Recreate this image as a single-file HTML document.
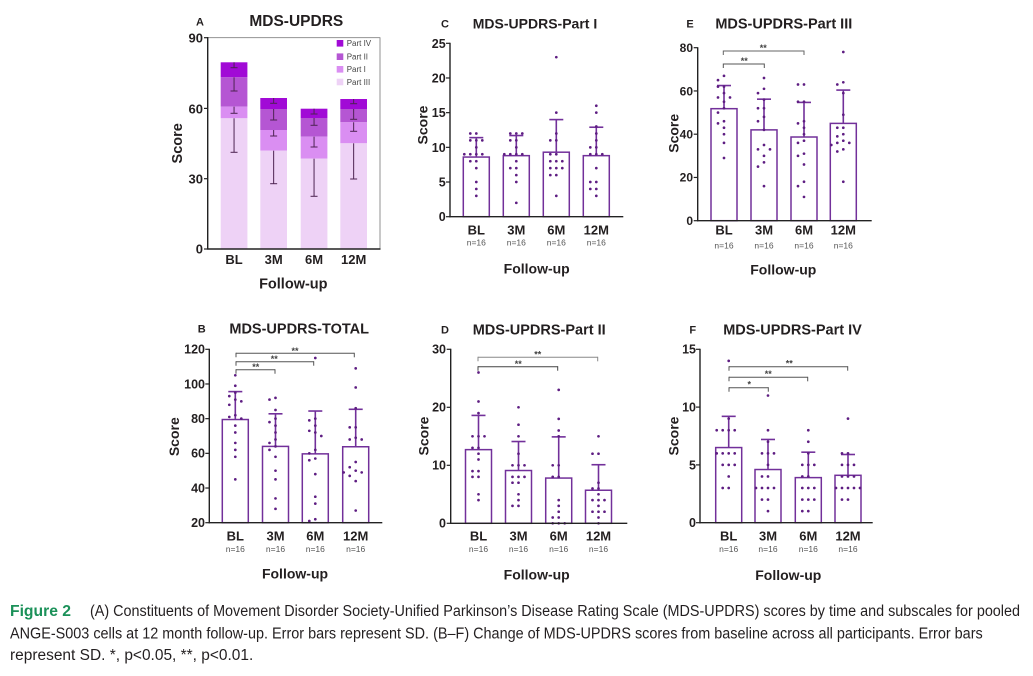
<!DOCTYPE html>
<html><head><meta charset="utf-8">
<style>
html,body{margin:0;padding:0;background:#fff;}
svg{display:block;}
.t{font-family:"Liberation Sans",sans-serif;font-weight:bold;fill:#231f20;}
.n{font-family:"Liberation Sans",sans-serif;font-size:8.5px;fill:#555;}
.cap{font-family:"Liberation Sans Narrow","Liberation Sans",sans-serif;font-size:15.5px;fill:#231f20;}
</style></head>
<body>
<svg id="s" width="1033" height="676" viewBox="0 0 1033 676" xmlns="http://www.w3.org/2000/svg">
<rect width="1033" height="676" fill="#fff"/>
<g id="shapes"></g>

<!-- Panel A text -->
<text class="t" x="200" y="25.7" font-size="11" text-anchor="middle">A</text>
<text class="t" x="296.3" y="26" font-size="15.5" text-anchor="middle">MDS-UPDRS</text>
<text class="t" x="203" y="42.5" font-size="13" text-anchor="end">90</text>
<text class="t" x="203" y="113.3" font-size="13" text-anchor="end">60</text>
<text class="t" x="203" y="183.5" font-size="13" text-anchor="end">30</text>
<text class="t" x="203" y="253.7" font-size="13" text-anchor="end">0</text>
<text class="t" font-size="14.5" text-anchor="middle" transform="translate(182,143.3) rotate(-90)">Score</text>
<text class="t" x="234" y="264" font-size="13" text-anchor="middle">BL</text>
<text class="t" x="273.7" y="264" font-size="13" text-anchor="middle">3M</text>
<text class="t" x="314" y="264" font-size="13" text-anchor="middle">6M</text>
<text class="t" x="353.7" y="264" font-size="13" text-anchor="middle">12M</text>
<text class="t" x="293.3" y="288.5" font-size="14.5" text-anchor="middle">Follow-up</text>
<g font-family="Liberation Sans, sans-serif" font-size="8" fill="#444">
<text x="346.7" y="46.2">Part IV</text>
<text x="346.7" y="59.5">Part II</text>
<text x="346.7" y="72.2">Part I</text>
<text x="346.7" y="84.9">Part III</text>
</g>

<!-- Panel C text -->
<text class="t" x="445" y="27.5" font-size="11" text-anchor="middle">C</text>
<text class="t" x="535" y="28.5" font-size="14" text-anchor="middle">MDS-UPDRS-Part I</text>
<text class="t" x="445.7" y="47.8" font-size="12.5" text-anchor="end">25</text>
<text class="t" x="445.7" y="82.5" font-size="12.5" text-anchor="end">20</text>
<text class="t" x="445.7" y="117.2" font-size="12.5" text-anchor="end">15</text>
<text class="t" x="445.7" y="151.8" font-size="12.5" text-anchor="end">10</text>
<text class="t" x="445.7" y="186.5" font-size="12.5" text-anchor="end">5</text>
<text class="t" x="445.7" y="221.2" font-size="12.5" text-anchor="end">0</text>
<text class="t" font-size="14" text-anchor="middle" transform="translate(427.7,125) rotate(-90)">Score</text>
<text class="t" x="476.3" y="234.7" font-size="13" text-anchor="middle">BL</text>
<text class="t" x="516.3" y="234.7" font-size="13" text-anchor="middle">3M</text>
<text class="t" x="556.3" y="234.7" font-size="13" text-anchor="middle">6M</text>
<text class="t" x="596.3" y="234.7" font-size="13" text-anchor="middle">12M</text>
<text class="n" x="476.3" y="245.7" text-anchor="middle">n=16</text>
<text class="n" x="516.3" y="245.7" text-anchor="middle">n=16</text>
<text class="n" x="556.3" y="245.7" text-anchor="middle">n=16</text>
<text class="n" x="596.3" y="245.7" text-anchor="middle">n=16</text>
<text class="t" x="536.7" y="273.3" font-size="14" text-anchor="middle">Follow-up</text>

<!-- Panel E text -->
<text class="t" x="690" y="27.5" font-size="11" text-anchor="middle">E</text>
<text class="t" x="783.8" y="28.5" font-size="14.5" text-anchor="middle">MDS-UPDRS-Part III</text>
<text class="t" x="693" y="52" font-size="12" text-anchor="end">80</text>
<text class="t" x="693" y="95.3" font-size="12" text-anchor="end">60</text>
<text class="t" x="693" y="138.5" font-size="12" text-anchor="end">40</text>
<text class="t" x="693" y="181.7" font-size="12" text-anchor="end">20</text>
<text class="t" x="693" y="225" font-size="12" text-anchor="end">0</text>
<text class="t" font-size="14" text-anchor="middle" transform="translate(678.3,133.3) rotate(-90)">Score</text>
<text class="t" x="724" y="234.7" font-size="13" text-anchor="middle">BL</text>
<text class="t" x="764" y="234.7" font-size="13" text-anchor="middle">3M</text>
<text class="t" x="804" y="234.7" font-size="13" text-anchor="middle">6M</text>
<text class="t" x="843.3" y="234.7" font-size="13" text-anchor="middle">12M</text>
<text class="n" x="724" y="248.7" text-anchor="middle">n=16</text>
<text class="n" x="764" y="248.7" text-anchor="middle">n=16</text>
<text class="n" x="804" y="248.7" text-anchor="middle">n=16</text>
<text class="n" x="843.3" y="248.7" text-anchor="middle">n=16</text>
<text class="t" x="783.3" y="274.3" font-size="14" text-anchor="middle">Follow-up</text>
<g font-family="Liberation Sans, sans-serif" font-size="9" font-weight="bold" fill="#444" text-anchor="middle">
<text x="763.3" y="51">**</text>
<text x="744.3" y="64">**</text>
</g>

<!-- Panel B text -->
<text class="t" x="201.7" y="332.5" font-size="11" text-anchor="middle">B</text>
<text class="t" x="299.2" y="333.5" font-size="14.5" text-anchor="middle">MDS-UPDRS-TOTAL</text>
<text class="t" x="205" y="353.7" font-size="12.5" text-anchor="end">120</text>
<text class="t" x="205" y="388.4" font-size="12.5" text-anchor="end">100</text>
<text class="t" x="205" y="423.1" font-size="12.5" text-anchor="end">80</text>
<text class="t" x="205" y="457.7" font-size="12.5" text-anchor="end">60</text>
<text class="t" x="205" y="492.4" font-size="12.5" text-anchor="end">40</text>
<text class="t" x="205" y="527.1" font-size="12.5" text-anchor="end">20</text>
<text class="t" font-size="14" text-anchor="middle" transform="translate(179,436.7) rotate(-90)">Score</text>
<text class="t" x="235.3" y="540.4" font-size="13" text-anchor="middle">BL</text>
<text class="t" x="275.5" y="540.4" font-size="13" text-anchor="middle">3M</text>
<text class="t" x="315.3" y="540.4" font-size="13" text-anchor="middle">6M</text>
<text class="t" x="355.7" y="540.4" font-size="13" text-anchor="middle">12M</text>
<text class="n" x="235.3" y="552" text-anchor="middle">n=16</text>
<text class="n" x="275.5" y="552" text-anchor="middle">n=16</text>
<text class="n" x="315.3" y="552" text-anchor="middle">n=16</text>
<text class="n" x="355.7" y="552" text-anchor="middle">n=16</text>
<text class="t" x="295" y="578.3" font-size="14" text-anchor="middle">Follow-up</text>
<g font-family="Liberation Sans, sans-serif" font-size="9" font-weight="bold" fill="#444" text-anchor="middle">
<text x="295" y="354">**</text>
<text x="274.3" y="362">**</text>
<text x="255.7" y="370">**</text>
</g>

<!-- Panel D text -->
<text class="t" x="445" y="333.5" font-size="11" text-anchor="middle">D</text>
<text class="t" x="539.2" y="334.5" font-size="14.5" text-anchor="middle">MDS-UPDRS-Part II</text>
<text class="t" x="446" y="353.7" font-size="12.5" text-anchor="end">30</text>
<text class="t" x="446" y="411.7" font-size="12.5" text-anchor="end">20</text>
<text class="t" x="446" y="469.7" font-size="12.5" text-anchor="end">10</text>
<text class="t" x="446" y="527.7" font-size="12.5" text-anchor="end">0</text>
<text class="t" font-size="14" text-anchor="middle" transform="translate(428.3,436) rotate(-90)">Score</text>
<text class="t" x="478.5" y="540.4" font-size="13" text-anchor="middle">BL</text>
<text class="t" x="518.5" y="540.4" font-size="13" text-anchor="middle">3M</text>
<text class="t" x="558.7" y="540.4" font-size="13" text-anchor="middle">6M</text>
<text class="t" x="598.5" y="540.4" font-size="13" text-anchor="middle">12M</text>
<text class="n" x="478.5" y="552" text-anchor="middle">n=16</text>
<text class="n" x="518.5" y="552" text-anchor="middle">n=16</text>
<text class="n" x="558.7" y="552" text-anchor="middle">n=16</text>
<text class="n" x="598.5" y="552" text-anchor="middle">n=16</text>
<text class="t" x="536.7" y="579.3" font-size="14" text-anchor="middle">Follow-up</text>
<g font-family="Liberation Sans, sans-serif" font-size="9" font-weight="bold" fill="#444" text-anchor="middle">
<text x="537.7" y="357.5">**</text>
<text x="518.3" y="367">**</text>
</g>

<!-- Panel F text -->
<text class="t" x="692.7" y="333.5" font-size="11" text-anchor="middle">F</text>
<text class="t" x="792.5" y="334.5" font-size="14.5" text-anchor="middle">MDS-UPDRS-Part IV</text>
<text class="t" x="696" y="353.7" font-size="12.5" text-anchor="end">15</text>
<text class="t" x="696" y="411.7" font-size="12.5" text-anchor="end">10</text>
<text class="t" x="696" y="469.4" font-size="12.5" text-anchor="end">5</text>
<text class="t" x="696" y="527.1" font-size="12.5" text-anchor="end">0</text>
<text class="t" font-size="14" text-anchor="middle" transform="translate(678.3,436) rotate(-90)">Score</text>
<text class="t" x="728.7" y="540.4" font-size="13" text-anchor="middle">BL</text>
<text class="t" x="768" y="540.4" font-size="13" text-anchor="middle">3M</text>
<text class="t" x="808.3" y="540.4" font-size="13" text-anchor="middle">6M</text>
<text class="t" x="848" y="540.4" font-size="13" text-anchor="middle">12M</text>
<text class="n" x="728.7" y="552" text-anchor="middle">n=16</text>
<text class="n" x="768" y="552" text-anchor="middle">n=16</text>
<text class="n" x="808.3" y="552" text-anchor="middle">n=16</text>
<text class="n" x="848" y="552" text-anchor="middle">n=16</text>
<text class="t" x="788.3" y="580" font-size="14" text-anchor="middle">Follow-up</text>
<g font-family="Liberation Sans, sans-serif" font-size="9" font-weight="bold" fill="#444" text-anchor="middle">
<text x="789.3" y="366.5">**</text>
<text x="768.3" y="377">**</text>
<text x="749.3" y="387.5">*</text>
</g>

<!-- Caption -->
<text class="cap" x="10" y="616" textLength="61" lengthAdjust="spacingAndGlyphs" fill="#1b9159" style="fill:#1b9159" font-weight="bold">Figure 2</text>
<text class="cap" x="90" y="616" textLength="930" lengthAdjust="spacingAndGlyphs">(A) Constituents of Movement Disorder Society-Unified Parkinson’s Disease Rating Scale (MDS-UPDRS) scores by time and subscales for pooled</text>
<text class="cap" x="10" y="638.3" textLength="972.7" lengthAdjust="spacingAndGlyphs">ANGE-S003 cells at 12 month follow-up. Error bars represent SD. (B–F) Change of MDS-UPDRS scores from baseline across all participants. Error bars</text>
<text class="cap" x="10" y="660" textLength="243.3" lengthAdjust="spacingAndGlyphs">represent SD. *, p&lt;0.05, **, p&lt;0.01.</text>
</svg>

<script>
(function(){
var NS="http://www.w3.org/2000/svg";
var g=document.getElementById("shapes");
function el(n,a){var e=document.createElementNS(NS,n);for(var k in a)e.setAttribute(k,a[k]);g.appendChild(e);return e;}
function line(x1,y1,x2,y2,c,w){return el("line",{x1:x1,y1:y1,x2:x2,y2:y2,stroke:c,"stroke-width":w});}

/* ---- Panel A ---- */
var cols={IV:"#a10ad6",II:"#b556d3",I:"#da8ef2",III:"#eed2f6"};
var A=[
 {x:220.7,tops:[62.3,77.3,106.7,118.3],caps:[67.7,91,113.3,152.3]},
 {x:260.3,tops:[98,109,130,150.7],caps:[103.3,120,136,183.7]},
 {x:300.7,tops:[108.7,118,136.7,158.7],caps:[114,125.3,147,196.3]},
 {x:340.3,tops:[99,109,122.3,143.3],caps:[103.7,119.3,131.3,179]}
];
var order=["IV","II","I","III"];
A.forEach(function(b){
  for(var i=0;i<4;i++){
    var y1=b.tops[i], y2=(i<3?b.tops[i+1]:249);
    el("rect",{x:b.x,y:y1,width:26.7,height:y2-y1,fill:cols[order[i]]});
  }
  var cx=b.x+13.35;
  for(var i=0;i<4;i++){
    var start=b.tops[i];
    line(cx,start,cx,b.caps[i],"#4d2352",1);
    line(cx-3.5,b.caps[i],cx+3.5,b.caps[i],"#4d2352",1);
  }
});
el("rect",{x:207.7,y:37.7,width:172.3,height:211.3,fill:"none",stroke:"#777","stroke-width":0.8});
line(207.7,37,207.7,249.5,"#222",1.4);
line(207.2,249,380.5,249,"#222",1.4);
[37.7,108.4,178.7,249].forEach(function(y){line(204,y,207.7,y,"#222",1.2);});
[[43.3,"IV"],[56.7,"II"],[69.3,"I"],[82,"III"]].forEach(function(r){
  el("rect",{x:336.7,y:r[0]-3.3,width:6.6,height:6.6,fill:cols[r[1]]});
});

/* ---- scatter bar panels ---- */
var PUR="#72309a", DOT="#5e1d82";
function panel(p){
  var sc=(p.yBot-p.yTop)/(p.max-p.min);
  function Y(v){return p.yBot-(v-p.min)*sc;}
  p.centers.forEach(function(c,i){
    var ym=Y(p.means[i]);
    el("rect",{x:c-13,y:ym,width:26,height:p.yBot-ym,fill:"#fff",stroke:PUR,"stroke-width":1.5});
    var ys=Y(p.sds[i]);
    line(c,ym,c,ys,PUR,1.6);
    line(c-7,ys,c+7,ys,PUR,1.6);
    /* beeswarm placement */
    var vals=p.dots[i].slice().sort(function(a,b){return b-a;});
    var placed=[];
    var offs=[0,-6,6,-12,12,-3,3,-9,9];
    vals.forEach(function(v){
      var py=Y(v), px=0;
      for(var k=0;k<offs.length;k++){
        var ok=true;
        for(var m=0;m<placed.length;m++){
          var dx=placed[m][0]-offs[k], dy=placed[m][1]-py;
          if(dx*dx+dy*dy<30){ok=false;break;}
        }
        if(ok){px=offs[k];break;}
      }
      placed.push([px,py]);
      el("circle",{cx:c+px,cy:py,r:1.35,fill:DOT});
    });
  });
  (p.br||[]).forEach(function(b){
    var col=b[3]||"#555";
    line(b[1],b[0],b[2],b[0],col,1);
    line(b[1],b[0]-0.5,b[1],b[0]+4,col,1);
    line(b[2],b[0]-0.5,b[2],b[0]+4,col,1);
  });
  line(p.ax,p.yTop-0.5,p.ax,p.yBot+0.7,"#222",1.4);
  line(p.ax-0.7,p.yBot,p.xEnd,p.yBot,"#222",1.4);
  p.ticks.forEach(function(t){line(p.ax-4,Y(t),p.ax,Y(t),"#222",1.2);});
}

panel({ax:450,xEnd:623.3,yTop:43.3,yBot:216.7,min:0,max:25,ticks:[0,5,10,15,20,25],
 centers:[476.3,516.3,556.3,596.3],means:[8.6,8.8,9.3,8.8],sds:[11.4,11.7,14.0,12.9],
 dots:[[12,12,11,11,11,10,9,9,9,9,8,8,7,5,4,3],
       [12,12,12,11,11,10,9,9,9,9,8,7,7,6,5,2],
       [23,15,12,11,11,9,9,8,8,8,7,7,7,6,6,3],
       [16,15,12,11,10,10,9,9,9,7,5,5,4,4,3,13]]});

panel({ax:697.7,xEnd:871.7,yTop:47.7,yBot:220.7,min:0,max:80,ticks:[0,20,40,60,80],
 centers:[724,764,804,843.3],means:[51.8,42,38.7,45],sds:[62.5,56.2,54.7,60.4],
 dots:[[67,65,62,62,59,57,57,55,52,50,46,45,43,40,36,29],
       [66,61,59,56,52,52,48,46,42,35,33,33,30,27,25,16],
       [63,63,55,55,46,45,43,40,37,36,31,30,26,18,16,11],
       [78,64,63,59,49,43,43,40,39,37,36,36,35,33,32,18]],
 br:[[51,723.3,804,"#666"],[64,723.3,764.3,"#555"]]});

panel({ax:209.3,xEnd:382.3,yTop:349.3,yBot:522.7,min:20,max:120,ticks:[20,40,60,80,100,120],
 centers:[235.3,275.5,315.3,355.7],means:[79.5,64,59.7,63.8],sds:[95.6,82.8,84.4,85.4],
 dots:[[105,99,95,93,91,90,88,82,81,80,76,72,66,62,58,45],
       [92,91,85,80,78,76,72,68,66,64,62,58,50,45,34,28],
       [115,80,79,76,73,72,70,62,60,57,56,48,35,31,22,21],
       [109,98,86,75,75,69,68,68,55,52,50,49,49,47,44,27]],
 br:[[353.3,236,354.3,"#555"],[361.7,236,313.7,"#555"],[369.7,236,275,"#555"]]});

panel({ax:450.7,xEnd:627.3,yTop:349.3,yBot:523.3,min:0,max:30,ticks:[0,10,20,30],
 centers:[478.5,518.5,558.7,598.5],means:[12.7,9.1,7.8,5.7],sds:[18.6,14.1,14.9,10.1],
 dots:[[26,21,19,15,15,15,13,13,12,11,9,9,8,8,5,4],
       [20,17,15,12,10,10,10,8,8,8,7,7,5,4,3,3],
       [23,18,16,15,10,10,8,8,4,3,2,1,1,0,0,0],
       [15,12,12,7,6,6,5,4,4,4,3,2,2,2,1,0]],
 br:[[357.3,478,597.7,"#888"],[366.7,478,557.7,"#444"]]});

panel({ax:700,xEnd:872.7,yTop:349.3,yBot:522.7,min:0,max:15,ticks:[0,5,10,15],
 centers:[728.7,768,808.3,848],means:[6.5,4.6,3.9,4.1],sds:[9.2,7.2,6.1,5.9],
 dots:[[14,9,8,8,8,8,6,6,6,6,5,5,5,4,3,3],
       [11,8,7,6,6,6,5,4,4,3,3,3,3,2,2,1],
       [8,7,6,5,5,5,4,4,3,3,2,2,2,1,1,3],
       [9,6,6,5,5,5,4,4,4,3,3,3,3,3,2,2]],
 br:[[366.7,729,847.7,"#555"],[377.3,729,807.7,"#555"],[387.7,729,768.3,"#555"]]});
})();
</script>
</body></html>
